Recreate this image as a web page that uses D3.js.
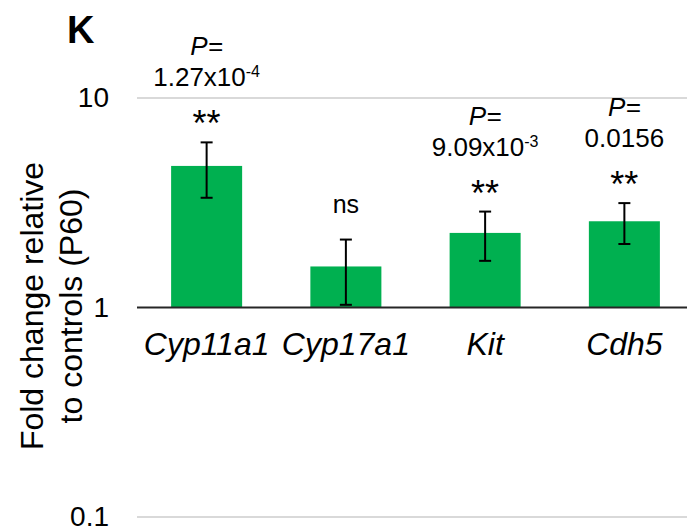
<!DOCTYPE html>
<html>
<head>
<meta charset="utf-8">
<script src="https://cdn.jsdelivr.net/npm/d3@7"></script>
<style>
  body { margin: 0; background: #fff; }
  svg text { font-family: "Liberation Sans", Arial, sans-serif; fill: #000; }
</style>
</head>
<body>
<div id="chart"></div>
<script>
// data
const genes = ['Cyp11a1', 'Cyp17a1', 'Kit', 'Cdh5'];
const foldChange = [4.74, 1.57, 2.27, 2.58];
const errSD = [1.40, 0.54, 0.60, 0.57];
const pLine1 = ['P=', '', 'P=', 'P='];
const pMantissa = ['1.27x10', '', '9.09x10', '0.0156'];
const pExponent = ['-4', '', '-3', ''];
const sigMarks = ['**', 'ns', '**', '**'];
const yTicks = [0.1, 1, 10];

const W = 687, H = 529;
const svg = d3.select('#chart').append('svg')
  .attr('width', W).attr('height', H);

// log y, band x
const y = d3.scaleLog().domain([0.1, 10]).range([517, 98]);
const x = d3.scaleBand().domain(genes).range([137, 694])
  .paddingInner(0.49).paddingOuter(0.245);

// gridlines (10, 0.1) and the base line at 1
svg.append('g').selectAll('line')
  .data(yTicks.filter(d => d !== 1))
  .enter().append('line')
  .attr('x1', 137).attr('x2', 694)
  .attr('y1', d => y(d)).attr('y2', d => y(d))
  .attr('stroke', '#d9d9d9').attr('stroke-width', 2);

// y tick labels
const yAxis = svg.append('g')
  .attr('transform', 'translate(137,0)')
  .call(d3.axisLeft(y).tickValues(yTicks).tickFormat(d => d).tickSize(0).tickPadding(28));
yAxis.select('.domain').remove();
yAxis.selectAll('text')
  .style('font-family', '"Liberation Sans", Arial, sans-serif')
  .style('font-size', '28px').attr('fill', '#000');

// bars from 1 up to the value
svg.append('g').selectAll('rect')
  .data(genes)
  .enter().append('rect')
  .attr('x', d => x(d))
  .attr('width', x.bandwidth())
  .attr('y', (d, i) => y(foldChange[i]))
  .attr('height', (d, i) => y(1) - y(foldChange[i]))
  .attr('fill', '#00b050');

// axis line at 1
svg.append('line')
  .attr('x1', 137).attr('x2', 694)
  .attr('y1', y(1)).attr('y2', y(1))
  .attr('stroke', '#262626').attr('stroke-width', 2);

// error bars
const eb = svg.append('g').attr('stroke', '#000').attr('stroke-width', 2);
genes.forEach((g, i) => {
  const cx = x(g) + x.bandwidth() / 2;
  const top = y(foldChange[i] + errSD[i]);
  const bot = y(foldChange[i] - errSD[i]);
  eb.append('line').attr('x1', cx).attr('x2', cx).attr('y1', top).attr('y2', bot);
  eb.append('line').attr('x1', cx - 6).attr('x2', cx + 6).attr('y1', top).attr('y2', top);
  eb.append('line').attr('x1', cx - 6).attr('x2', cx + 6).attr('y1', bot).attr('y2', bot);
});

// significance labels and P values above each error bar
const ann = svg.append('g').attr('text-anchor', 'middle');
genes.forEach((g, i) => {
  const cx = x(g) + x.bandwidth() / 2;
  const top = y(foldChange[i] + errSD[i]);
  if (sigMarks[i] === 'ns') {
    ann.append('text').attr('x', cx).attr('y', top - 27)
      .style('font-size', '25px').text('ns');
    return;
  }
  ann.append('text').attr('x', cx).attr('y', top - 6)
    .style('font-size', '36px').text(sigMarks[i]);
  const base2 = top - 56;
  const t2 = ann.append('text').attr('x', cx).attr('y', base2).style('font-size', '26px');
  t2.append('tspan').text(pMantissa[i]);
  if (pExponent[i]) {
    t2.append('tspan').attr('dy', -9).style('font-size', '16px').text(pExponent[i]);
  }
  ann.append('text').attr('x', cx).attr('y', base2 - 31)
    .style('font-size', '26px').style('font-style', 'italic').text(pLine1[i]);
});

// category labels
svg.append('g').selectAll('text')
  .data(genes)
  .enter().append('text')
  .attr('x', d => x(d) + x.bandwidth() / 2)
  .attr('y', 355)
  .attr('text-anchor', 'middle')
  .style('font-size', '32px').style('font-style', 'italic')
  .text(d => d);

// y axis title, two lines
const yt = svg.append('text')
  .attr('transform', 'translate(43,306) rotate(-90)')
  .attr('text-anchor', 'middle')
  .style('font-size', '32px');
yt.append('tspan').attr('x', 0).attr('y', 0).text('Fold change relative');
yt.append('tspan').attr('x', 0).attr('y', 39).text('to controls (P60)');

// panel letter
svg.append('text').attr('x', 67).attr('y', 43)
  .style('font-size', '38px').style('font-weight', 'bold').text('K');
</script>
</body>
</html>
